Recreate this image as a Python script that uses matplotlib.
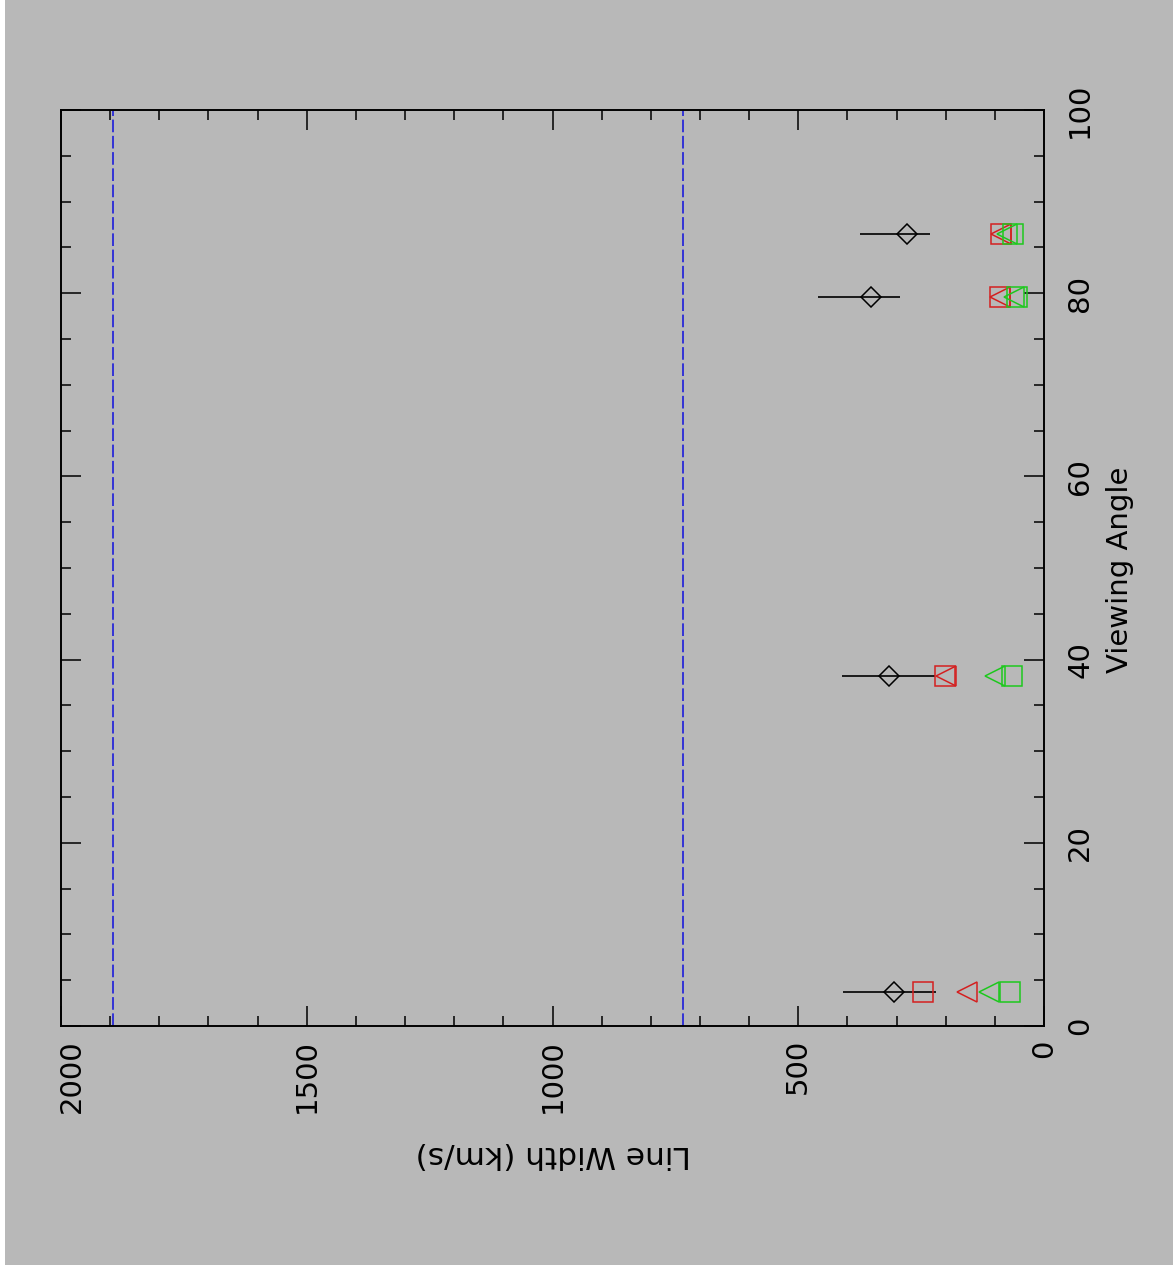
import matplotlib
matplotlib.use('Agg')
import matplotlib.pyplot as plt
import matplotlib.transforms as mtransforms
from matplotlib.ticker import MultipleLocator, FixedLocator
from matplotlib.patches import Rectangle

# ---- data ----
angles = [3.7, 38.2, 79.6, 86.5]
diamond_w = [305, 315, 353, 279]
diamond_lo = [220, 222, 292, 231]
diamond_hi = [408, 412, 460, 374]
red_sq = [246, 201, 90, 88]
red_tri = [157, 200, 89, 88]
green_tri = [112, 100, 61, 75]
green_sq = [69, 65, 54, 63]
ref_lines = [1894, 735]
x_ticks = [0, 500, 1000, 1500, 2000]
y_ticks = [0, 20, 40, 60, 80, 100]

W, H = 1173, 1274
GRAY = '#b8b8b8'
RED = '#d42020'
GREEN = '#1ec81e'
BLUE = '#2828d8'

fig = plt.figure(figsize=(W / 100, H / 100), dpi=100, facecolor='white')
fig.patches.append(Rectangle((5 / W, 1 - 1265 / H), 1 - 5 / W, 1265 / H,
                             transform=fig.transFigure, facecolor=GRAY,
                             edgecolor='none', zorder=-10))

ax = fig.add_axes([61 / W, 1 - 1026 / H, 983 / W, 916 / H])
ax.set_facecolor(GRAY)

# reference lines
for v in ref_lines:
    ax.axvline(v, color=BLUE, lw=1.3, ls=(0, (7, 2)), zorder=1)

# error bars + diamonds
xerr = [[w - lo for w, lo in zip(diamond_w, diamond_lo)],
        [hi - w for w, hi in zip(diamond_w, diamond_hi)]]
ax.errorbar(diamond_w, angles, xerr=xerr, fmt='none', ecolor='black',
            elinewidth=1.2, capsize=0, zorder=2)
ax.plot(diamond_w, angles, ls='none', marker='D', ms=10.2, mfc='none',
        mec='black', mew=1.1, zorder=3)

ax.plot(red_sq, angles, ls='none', marker='s', ms=14.4, mfc='none',
        mec=RED, mew=1.1, zorder=3)
ax.plot(red_tri, angles, ls='none', marker='<', ms=14.4, mfc='none',
        mec=RED, mew=1.1, zorder=3)
ax.plot(green_tri, angles, ls='none', marker='<', ms=14.4, mfc='none',
        mec=GREEN, mew=1.1, zorder=3)
ax.plot(green_sq, angles, ls='none', marker='s', ms=14.4, mfc='none',
        mec=GREEN, mew=1.1, zorder=3)

ax.set_xlim(2000, 0)
ax.set_ylim(0, 100)

ax.xaxis.set_major_locator(FixedLocator(x_ticks))
ax.xaxis.set_minor_locator(MultipleLocator(100))
ax.yaxis.set_major_locator(FixedLocator(y_ticks))
ax.yaxis.set_minor_locator(MultipleLocator(5))
ax.set_xticklabels([str(t) for t in x_ticks])
ax.set_yticklabels([str(t) for t in y_ticks])

ax.yaxis.tick_right()
ax.tick_params(which='both', direction='in', top=True, bottom=True,
               left=True, right=True, colors='black', width=1.1)
ax.tick_params(which='major', length=14.4)
ax.tick_params(which='minor', length=7.2)
ax.tick_params(axis='x', which='major', labelrotation=90, labelsize=21, pad=9.5)
ax.tick_params(axis='y', which='major', labelrotation=90, labelsize=21, pad=16,
               labelright=True, labelleft=False)
for lab in ax.get_yticklabels():
    lab.set_va('center')

for s in ax.spines.values():
    s.set_linewidth(1.4)
    s.set_color('black')

# shift the end label inward as in the reference
xl = ax.get_xticklabels()
xl[-1].set_transform(xl[-1].get_transform() +
                     mtransforms.ScaledTranslation(11 / 100, 0, fig.dpi_scale_trans))

fig.text(553 / W, 1 - 1155 / H, 'Line Width (km/s)', rotation=180,
         ha='center', va='center', fontsize=22.5)
fig.text(1120 / W, 1 - 570 / H, 'Viewing Angle', rotation=90,
         ha='center', va='center', fontsize=21)

fig.savefig('out.png', dpi=100, facecolor='white')
